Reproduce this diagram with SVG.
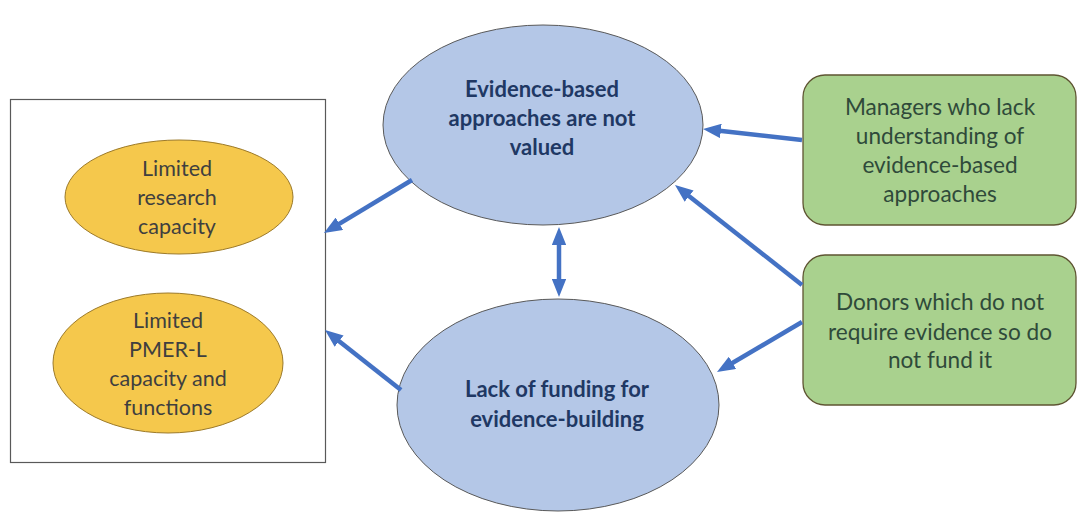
<svg xmlns="http://www.w3.org/2000/svg" width="1077" height="512" viewBox="0 0 1077 512">
<style>
.t{font-family:Lato,"Liberation Sans",sans-serif;font-size:22px;text-anchor:middle}
.blue{fill:#B4C7E7;stroke:#595959;stroke-width:1}
.bt{fill:#203864;font-weight:bold}
.yel{fill:#F5C84C;stroke:#9C7A2A;stroke-width:1}
.yt{fill:#3F3F3F;font-size:21.5px}
.grn{fill:#A9D18E;stroke:#5E5432;stroke-width:1.3}
.gt{fill:#2F4A3A;font-size:22.6px}
.c{stroke:#4472C4;stroke-width:4.5;fill:none;marker-end:url(#ah)}
</style>
<defs>
<marker id="ah" viewBox="0 0 10 8" refX="2" refY="4" markerWidth="4" markerHeight="3.2" orient="auto-start-reverse" markerUnits="strokeWidth">
<path d="M0,0 L10,4 L0,8 z" fill="#4472C4"/>
</marker>
</defs>
<rect width="1077" height="512" fill="#fff"/>
<g id="box">
<rect x="10.5" y="99.5" width="315" height="363" fill="#fff" stroke="#595959" stroke-width="1.2"/>
</g>
<g id="limited-research">
<ellipse class="yel" cx="179" cy="197" rx="114" ry="57"/>
<text class="t yt" x="177" y="176">Limited</text>
<text class="t yt" x="177" y="205">research</text>
<text class="t yt" x="177" y="234">capacity</text>
</g>
<g id="limited-pmer">
<ellipse class="yel" cx="168" cy="363" rx="115" ry="70"/>
<text class="t yt" x="168" y="328">Limited</text>
<text class="t yt" x="168" y="357">PMER-L</text>
<text class="t yt" x="168" y="386">capacity and</text>
<text class="t yt" x="168" y="415">functions</text>
</g>
<g id="evidence-not-valued">
<ellipse class="blue" cx="543" cy="125" rx="160" ry="100"/>
<text class="t bt" x="542" y="97">Evidence-based</text>
<text class="t bt" x="542" y="126">approaches are not</text>
<text class="t bt" x="542" y="155">valued</text>
</g>
<g id="lack-funding">
<ellipse class="blue" cx="558" cy="405" rx="161" ry="106"/>
<text class="t bt" x="557" y="397">Lack of funding for</text>
<text class="t bt" x="557" y="427">evidence-building</text>
</g>
<g id="managers">
<rect class="grn" x="803" y="75" width="273" height="150" rx="22"/>
<text class="t gt" x="940" y="115">Managers who lack</text>
<text class="t gt" x="940" y="144">understanding of</text>
<text class="t gt" x="940" y="173">evidence-based</text>
<text class="t gt" x="940" y="202">approaches</text>
</g>
<g id="donors">
<rect class="grn" x="803" y="255" width="273" height="150" rx="22"/>
<text class="t gt" x="940" y="310">Donors which do not</text>
<text class="t gt" x="940" y="340">require evidence so do</text>
<text class="t gt" x="940" y="368">not fund it</text>
</g>
<g id="connectors">
<line class="c" x1="412" y1="180" x2="336.3" y2="225.6"/>
<line class="c" x1="401" y1="390" x2="336.3" y2="338.9"/>
<line class="c" x1="559" y1="241.4" x2="559" y2="282.6" style="marker-start:url(#ah)"/>
<line class="c" x1="802" y1="140" x2="717.3" y2="130.6"/>
<line class="c" x1="802" y1="285" x2="686.3" y2="193.9"/>
<line class="c" x1="802" y1="322" x2="729.4" y2="364.7"/>
</g>
</svg>
